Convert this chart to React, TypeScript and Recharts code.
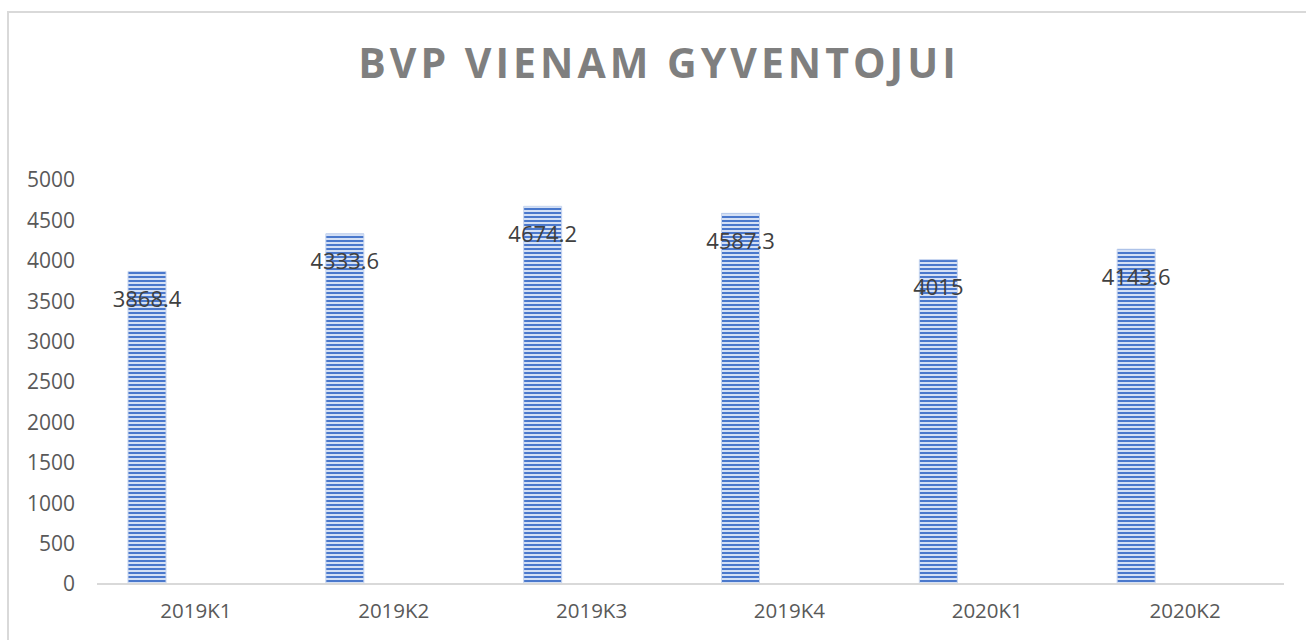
import { Bar, BarChart, LabelList, XAxis, YAxis } from "recharts";

const quarters = ["2019K1", "2019K2", "2019K3", "2019K4", "2020K1", "2020K2"];
const gdpPerCapita = [3868.4, 4333.6, 4674.2, 4587.3, 4015, 4143.6];
const yTicks = [0, 500, 1000, 1500, 2000, 2500, 3000, 3500, 4000, 4500, 5000];

const rows = quarters.map((q, i) => ({ q, bvp: gdpPerCapita[i], empty: null }));

const FONT = "'Open Sans', 'Noto Sans', sans-serif";

export default function App() {
  return (
    <div style={{ position: "absolute", left: 0, top: 0, width: 1306, height: 640, background: "#fff", overflow: "hidden" }}>
      <div
        style={{
          position: "absolute",
          left: 7,
          top: 11,
          width: 1320,
          height: 660,
          border: "2px solid #d9d9d9",
        }}
      />
      <div
        style={{
          position: "absolute",
          left: 0,
          top: 32,
          width: 1318,
          textAlign: "center",
          fontFamily: FONT,
          fontWeight: 700,
          fontSize: 41,
          letterSpacing: 4,
          color: "#7f7f7f",
          lineHeight: "60px",
        }}
      >
        BVP VIENAM GYVENTOJUI
      </div>
      <BarChart
        width={1306}
        height={640}
        data={rows}
        margin={{ top: 180, right: 22, bottom: 0, left: 17 }}
        barGap={60}
        style={{ position: "absolute", left: 0, top: 0 }}
      >
        <defs>
          <pattern id="stripes" width="8" height="4" patternUnits="userSpaceOnUse">
            <rect width="8" height="4" fill="#d4e0f5" />
            <rect y="0" width="8" height="2" fill="#4a78cc" />
          </pattern>
        </defs>
        <XAxis
          dataKey="q"
          height={56}
          tickSize={0}
          tickMargin={19}
          axisLine={{ stroke: "#d9d9d9", strokeWidth: 2 }}
          tick={{ fill: "#595959", fontSize: 20.5, fontFamily: FONT }}
        />
        <YAxis
          width={80}
          domain={[0, 5000]}
          ticks={yTicks}
          interval={0}
          tickSize={0}
          tickMargin={22}
          axisLine={false}
          tick={{ fill: "#595959", fontSize: 21, fontFamily: FONT }}
        />
        <Bar dataKey="bvp" barSize={38} fill="url(#stripes)" stroke="#c5d4ef" strokeWidth={1} isAnimationActive={false}>
          <LabelList
            dataKey="bvp"
            position="insideTop"
            offset={20}
            fill="#404040"
            fontSize={22}
            fontFamily={FONT}
          />
        </Bar>
        <Bar dataKey="empty" barSize={38} fill="#a5a5a5" isAnimationActive={false} />
      </BarChart>
    </div>
  );
}
